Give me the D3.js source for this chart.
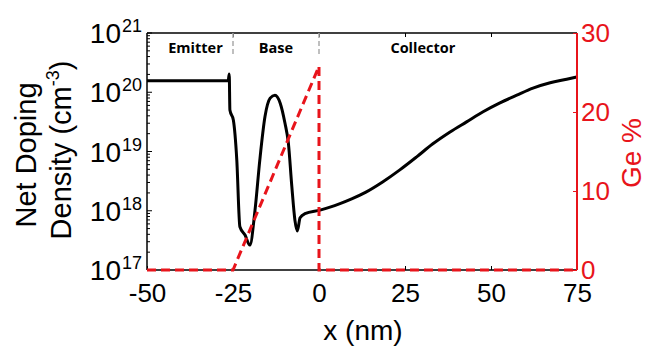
<!DOCTYPE html>
<html><head><meta charset="utf-8">
<script src="https://cdn.jsdelivr.net/npm/d3@7"></script>
<style>
html,body{margin:0;padding:0;background:#fff;}
svg{display:block;}
text{font-family:"Liberation Sans",Arial,sans-serif;}
</style></head>
<body>
<svg id="chart" width="652" height="347"></svg>
<script>
// ---- data ----
const dopX = [-50,-40,-30,-26.4,-26.1,-25.9,-24.9,-23.9,-23.0,-21.5,-20.1,-18.6,-17.2,-15.7,-14.2,-12.8,-11.3,-9.9,-8.9,-7.9,-7.0,-6.3,-5.5,-4.1,0.3,3.2,6.1,9.5,13.5,18.6,23.5,28.4,33.1,38.1,42.9,47.7,52.6,57.5,62.2,67.2,72.0,75];
const dopLog = [20.195,20.195,20.195,20.195,20.31,19.70,19.53,18.86,17.73,17.59,17.42,18.01,18.86,19.59,19.90,19.95,19.82,19.48,19.14,18.41,17.84,17.66,17.88,17.95,18.01,18.06,18.12,18.20,18.31,18.49,18.69,18.91,19.13,19.33,19.50,19.67,19.82,19.95,20.07,20.16,20.22,20.26];
const geX = [-50,-25,0,0,75];
const geY = [0,0,25.8,0,0];
const xTicks = [-50,-25,0,25,50,75];
const yExps = [17,18,19,20,21];
const geTicks = [0,10,20,30];
const regions = ["Emitter","Base","Collector"];
const regionX = [-35.9,-12.5,30.2];
const separators = [-25,0];

// ---- layout ----
const L=147, R=577, T=33, B=270;
const svg = d3.select("#chart");
const x = d3.scaleLinear().domain([-50,75]).range([L,R]);
const y = d3.scaleLog().domain([1e17,1e21]).range([B,T]);
const yr = d3.scaleLinear().domain([0,30]).range([B,T]);

// frame
svg.append("line").attr("x1",L).attr("x2",R).attr("y1",T).attr("y2",T).attr("stroke","#000").attr("stroke-width",1.5);
svg.append("line").attr("x1",L).attr("x2",R).attr("y1",B).attr("y2",B).attr("stroke","#000").attr("stroke-width",1.5);
svg.append("line").attr("x1",L).attr("x2",L).attr("y1",T).attr("y2",B).attr("stroke","#000").attr("stroke-width",1.5);

// bottom axis ticks (inward)
const bAxis = d3.axisBottom(x).tickValues(xTicks).tickSize(-4).tickPadding(10).tickFormat(d3.format("d"));
const gb = svg.append("g").attr("transform",`translate(0,${B})`).call(bAxis);
gb.select(".domain").remove();
gb.selectAll(".tick line").attr("stroke","#000");
gb.selectAll("text").attr("font-size",26).attr("fill","#000").attr("dy","0.72em").attr("y",13)
  .text(d=> d<0 ? "-"+Math.abs(d) : d);
// top ticks
const tAxis = d3.axisTop(x).tickValues(xTicks.slice(1,-1)).tickSize(-4).tickFormat("");
const gt = svg.append("g").attr("transform",`translate(0,${T})`).call(tAxis);
gt.select(".domain").remove();
gt.selectAll(".tick line").attr("stroke","#000");

// left log axis: minor and major ticks
const minor = [];
for(let e=17;e<21;e++){for(let m=2;m<=9;m++)minor.push(m*Math.pow(10,e));}
svg.append("g").selectAll("line").data(minor).join("line")
  .attr("x1",L).attr("x2",L+3).attr("y1",d=>y(d)).attr("y2",d=>y(d)).attr("stroke","#000").attr("stroke-width",1);
svg.append("g").selectAll("line").data(yExps).join("line")
  .attr("x1",L).attr("x2",L+5).attr("y1",d=>y(Math.pow(10,d))).attr("y2",d=>y(Math.pow(10,d))).attr("stroke","#000").attr("stroke-width",1);
svg.append("g").selectAll("text").data(yExps).join("text")
  .attr("x",121).attr("y",d=>y(Math.pow(10,d))+10).attr("text-anchor","end").attr("font-size",28).attr("fill","#000")
  .text("10");
svg.append("g").selectAll("text").data(yExps).join("text")
  .attr("x",122).attr("y",d=>y(Math.pow(10,d))-1).attr("text-anchor","start").attr("font-size",18).attr("fill","#000")
  .text(d=>d);

// region separators and labels
svg.append("g").selectAll("line").data(separators).join("line")
  .attr("x1",d=>x(d)).attr("x2",d=>x(d)).attr("y1",T).attr("y2",T+23)
  .attr("stroke","#aaa").attr("stroke-width",1.5).attr("stroke-dasharray","5,3");
svg.append("g").selectAll("text").data(regions).join("text")
  .attr("x",(d,i)=>x(regionX[i])).attr("y",T+20).attr("text-anchor","middle")
  .attr("font-size",14.5).attr("font-weight","bold").style("font-family","'Open Sans',sans-serif").attr("fill","#000")
  .text(d=>d);

// doping curve
const dopData = dopX.map((v,i)=>[v,Math.pow(10,dopLog[i])]);
svg.append("path").datum(dopData)
  .attr("d",d3.line().x(d=>x(d[0])).y(d=>y(d[1])).curve(d3.curveMonotoneX))
  .attr("fill","none").attr("stroke","#000").attr("stroke-width",3).attr("stroke-linejoin","round");

// Ge profile
const geData = geX.map((v,i)=>[v,geY[i]]);
svg.append("path").datum(geData)
  .attr("d",d3.line().x(d=>x(d[0])).y(d=>yr(d[1])))
  .attr("fill","none").attr("stroke","#e8141b").attr("stroke-width",3).attr("stroke-dasharray","9,5");

// right axis (red)
const rAxis = d3.axisRight(yr).tickValues(geTicks).tickSize(-4).tickPadding(6).tickFormat(d3.format("d"));
const gr = svg.append("g").attr("transform",`translate(${R},0)`).call(rAxis);
gr.select(".domain").attr("stroke","#e8141b").attr("stroke-width",2).attr("d",`M0,${T}V${B}`);
gr.selectAll(".tick line").attr("stroke","#e8141b");
gr.selectAll("text").attr("font-size",26).attr("fill","#e8141b").attr("x",4);

// axis titles
svg.append("text").attr("transform","translate(36,155) rotate(-90)").attr("text-anchor","middle")
  .attr("font-size",29).attr("fill","#000").text("Net Doping");
const t2 = svg.append("text").attr("transform","translate(71,150) rotate(-90)").attr("text-anchor","middle")
  .attr("font-size",29).attr("fill","#000");
t2.append("tspan").text("Density (cm");
t2.append("tspan").attr("font-size",18).attr("dy",-12).text("-3");
t2.append("tspan").attr("dy",12).text(")");
svg.append("text").attr("x",363).attr("y",340).attr("text-anchor","middle").attr("font-size",28).attr("fill","#000").text("x (nm)");
svg.append("text").attr("transform","translate(641,153) rotate(-90)").attr("text-anchor","middle")
  .attr("font-size",28).attr("fill","#e8141b").text("Ge %");
</script>
</body></html>
